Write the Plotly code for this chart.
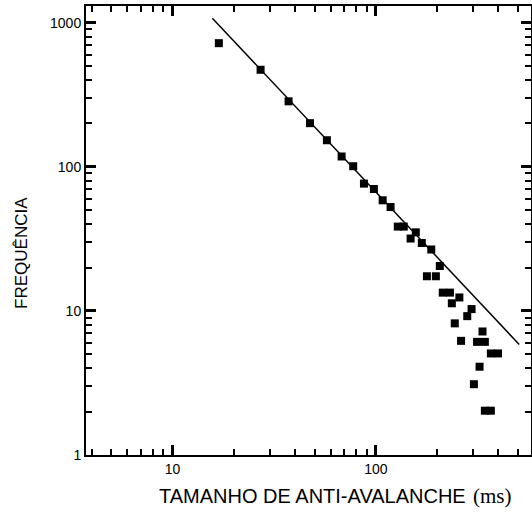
import plotly.graph_objects as go

# Data (log-log)
tamanho = [16.9, 27.1, 37.2, 47.4, 57.4, 67.8, 77.3, 87.3, 97.7, 107.9, 118,
           128, 137, 157, 148, 168, 187, 206, 178, 197, 213, 231, 257, 236,
           295, 281, 244, 334, 262, 314, 343, 367, 398, 323, 303, 343, 367]
frequencia = [722, 472, 285, 201, 153, 118, 101, 76.5, 70.2, 58.6, 52.6,
              38.5, 38.5, 35.1, 31.8, 29.6, 26.7, 20.5, 17.4, 17.4, 13.4, 13.4, 12.4, 11.3,
              10.3, 9.2, 8.2, 7.2, 6.2, 6.1, 6.1, 5.07, 5.07, 4.1, 3.1, 2.03, 2.03]

fit_x = [15.7, 506]
fit_y = [1076, 5.85]

x_major = [10, 100]
y_major = [1, 10, 100, 1000]
x_minor = [4, 5, 6, 7, 8, 9, 20, 30, 40, 50, 60, 70, 80, 90, 200, 300, 400, 500]
y_minor = [2, 3, 4, 5, 6, 7, 8, 9, 20, 30, 40, 50, 60, 70, 80, 90,
           200, 300, 400, 500, 600, 700, 800, 900]

x_range = [0.575, 2.762]
y_range = [0, 3.1165]

font = "Liberation Sans"

fig = go.Figure()
fig.add_trace(go.Scatter(x=fit_x, y=fit_y, mode="lines",
                         line=dict(color="black", width=1.5), showlegend=False))
fig.add_trace(go.Scatter(x=tamanho, y=frequencia, mode="markers",
                         marker=dict(symbol="square", size=8, color="black",
                                     line=dict(width=0)),
                         showlegend=False))
# invisible trace carrying the overlay axes used for minor ticks
fig.add_trace(go.Scatter(x=fit_x, y=fit_y, mode="lines", xaxis="x2", yaxis="y2",
                         line=dict(width=0), opacity=0, hoverinfo="skip",
                         showlegend=False))

major = dict(
    type="log", showline=True, linecolor="black", linewidth=2,
    mirror="allticks", ticks="inside", ticklen=10, tickwidth=2.5, tickcolor="black",
    showgrid=False, tickmode="array",
    tickfont=dict(family=font, size=14, color="black"),
)
minor_ax = dict(
    type="log", showline=True, linecolor="black", linewidth=2,
    mirror="allticks", ticks="inside", ticklen=6, tickwidth=2, tickcolor="black",
    showgrid=False, tickmode="array", showticklabels=False,
)

fig.update_layout(
    xaxis=dict(**major, range=x_range, tickvals=x_major,
               ticktext=[str(v) for v in x_major]),
    yaxis=dict(**major, range=y_range, tickvals=y_major,
               ticktext=[str(v) for v in y_major]),
    xaxis2=dict(**minor_ax, range=x_range, tickvals=x_minor,
                overlaying="x", anchor="y2"),
    yaxis2=dict(**minor_ax, range=y_range, tickvals=y_minor,
                overlaying="y", anchor="x2"),
)

fig.add_annotation(text="FREQUÊNCIA", textangle=-90, xref="paper", yref="paper",
                   x=-0.1438, y=0.45, xanchor="center", yanchor="middle",
                   showarrow=False, font=dict(family=font, size=17, color="black"))
fig.add_annotation(text="TAMANHO DE ANTI-AVALANCHE",
                   xref="paper", yref="paper", x=0.858, y=-0.092,
                   xanchor="right", yanchor="middle",
                   showarrow=False, font=dict(family=font, size=20, color="black"))
fig.add_annotation(text="(ms)",
                   xref="paper", yref="paper", x=0.866, y=-0.092,
                   xanchor="left", yanchor="middle",
                   showarrow=False, font=dict(family="Liberation Serif", size=21, color="black"))

fig.update_layout(width=532, height=514,
                  margin=dict(l=86, r=1, t=5.5, b=59, autoexpand=False),
                  plot_bgcolor="white", paper_bgcolor="white")

fig.write_html("out.html")
